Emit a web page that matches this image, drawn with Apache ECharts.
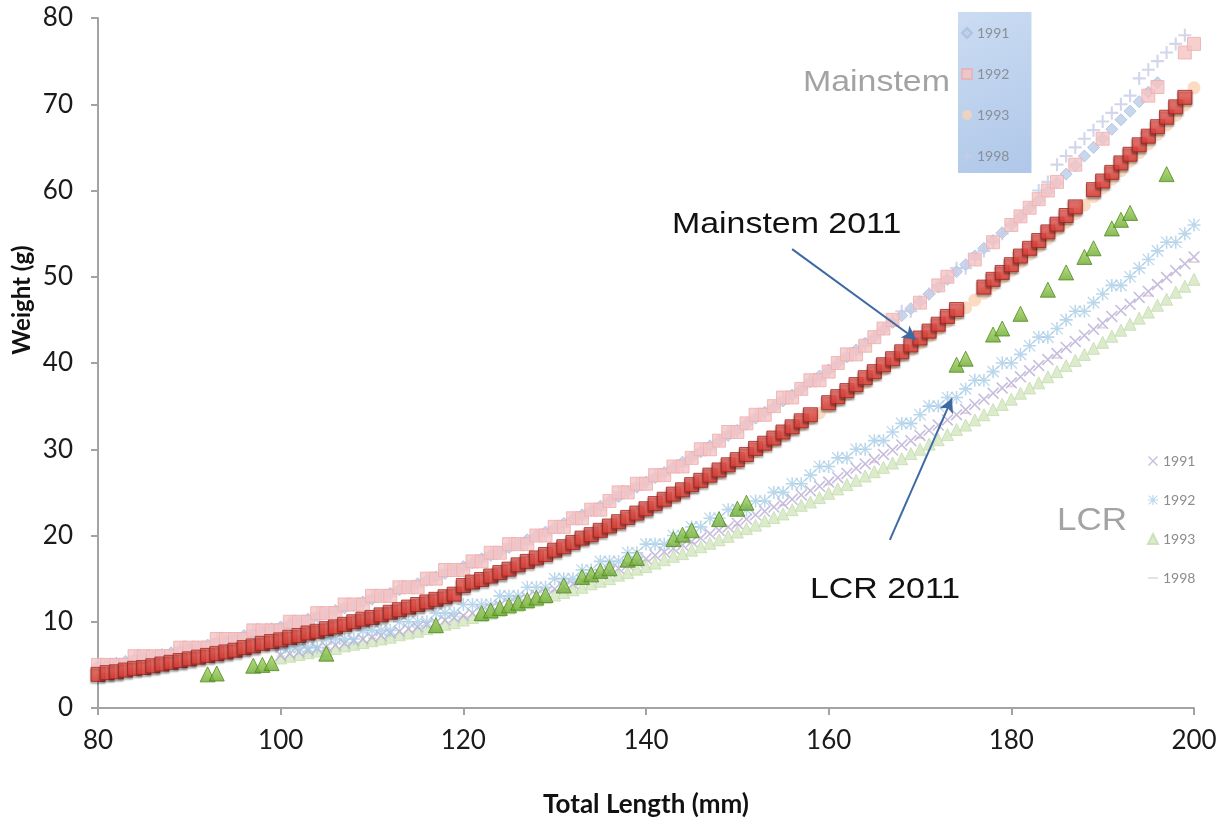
<!DOCTYPE html>
<html>
<head>
<meta charset="utf-8">
<script src="https://cdn.jsdelivr.net/npm/echarts@6/dist/echarts.min.js"></script>
<style>
html,body{margin:0;padding:0;background:#fff;}
#chart{width:1223px;height:823px;}
</style>
</head>
<body>
<div id="chart"></div>
<script>
// ---- data (total length in mm, weight in g) ----
const lengthsMm = [
 80,81,82,83,84,85,86,87,88,89,
 90,91,92,93,94,95,96,97,98,99,
 100,101,102,103,104,105,106,107,108,109,
 110,111,112,113,114,115,116,117,118,119,
 120,121,122,123,124,125,126,127,128,129,
 130,131,132,133,134,135,136,137,138,139,
 140,141,142,143,144,145,146,147,148,149,
 150,151,152,153,154,155,156,157,158,159,
 160,161,162,163,164,165,166,167,168,169,
 170,171,172,173,174,175,176,177,178,179,
 180,181,182,183,184,185,186,187,188,189,
 190,191,192,193,194,195,196,197,198,199,
 200];

// Mainstem 2011 (bold red squares)
const mainstem2011 = [
 3.9,4.1,4.2,4.4,4.6,4.7,4.9,5.1,5.3,5.5,
 5.7,5.9,6.1,6.3,6.5,6.7,7.0,7.2,7.5,7.7,
 7.9,8.2,8.4,8.7,8.9,9.2,9.4,9.7,10.0,10.3,
 10.5,10.8,11.1,11.4,11.7,12.0,12.3,12.6,12.9,13.2,
 14.2,14.6,14.9,15.3,15.7,16.1,16.6,17.0,17.4,17.8,
 18.3,18.7,19.2,19.7,20.1,20.6,21.1,21.6,22.1,22.6,
 23.1,23.7,24.2,24.8,25.3,25.9,26.4,27.0,27.6,28.2,
 28.8,29.4,30.1,30.7,31.3,32.0,32.6,33.3,34.0,null,
 35.4,36.1,36.8,37.5,38.3,39.0,39.8,40.5,41.3,42.1,
 42.9,43.7,44.5,45.4,46.2,null,null,48.8,49.7,50.5,
 51.4,52.4,53.3,54.2,55.2,56.1,57.1,58.1,null,60.1,
 61.1,62.1,63.2,64.2,65.3,66.3,67.4,68.5,69.7,70.8,
 null];

// Mainstem 1991 (light blue diamonds)
const mainstem1991 = [
 4.8,5.0,5.2,5.4,5.6,5.8,6.0,6.2,6.4,6.6,
 6.9,7.1,7.3,7.6,7.8,8.1,8.4,8.6,8.9,9.2,
 9.4,9.7,10.0,10.3,10.6,10.9,11.3,11.6,11.9,12.3,
 12.6,13.0,13.3,13.7,14.0,14.4,14.8,15.2,15.6,16.0,
 16.4,16.8,17.3,17.7,18.1,18.6,19.0,19.5,20.0,20.4,
 20.9,21.4,21.9,22.4,22.9,23.4,24.0,24.5,25.1,25.6,
 26.2,26.7,27.3,27.9,28.5,29.1,29.7,30.4,31.0,31.6,
 32.2,32.9,33.6,34.3,34.9,35.6,36.3,37.0,37.8,38.5,
 39.2,40.0,40.7,41.5,42.3,43.0,43.9,44.7,45.5,46.3,
 47.1,48.0,48.8,49.7,50.6,51.4,52.4,53.3,54.2,55.1,
 56.0,57.0,58.0,58.9,59.9,60.9,61.9,62.9,64.0,65.0,
 66.0,67.1,68.2,69.2,70.3,71.4,72.5,null,null,null,
 null];

// Mainstem 1992 (pink squares)
const mainstem1992 = [
 5,5,5,5,6,6,6,6,6,7,
 7,7,7,8,8,8,8,9,9,9,
 9,10,10,10,11,11,11,12,12,12,
 13,13,13,14,14,14,15,15,16,16,
 16,17,17,18,18,19,19,19,20,20,
 21,21,22,22,23,23,24,25,25,26,
 26,27,27,28,28,29,30,30,31,32,
 32,33,34,34,35,36,36,37,38,38,
 39,40,41,41,42,43,44,45,null,null,
 47,null,49,50,null,null,52,null,54,null,
 56,57,58,59,60,61,null,63,null,null,
 66,null,null,null,null,71,72,null,null,76,
 77];

// Mainstem 1993 (light orange circles)
const mainstem1993 = [
 3.9,4.0,4.2,4.4,4.5,4.7,4.9,5.0,5.2,5.4,
 5.6,5.8,6.0,6.2,6.4,6.6,6.9,7.1,7.4,7.6,
 7.8,8.1,8.3,8.6,8.8,9.1,9.3,9.6,9.9,10.2,
 10.4,10.7,11.0,11.3,11.6,11.9,12.2,12.5,12.8,13.2,
 14.0,14.4,14.7,15.1,15.5,15.9,16.4,16.8,17.2,17.6,
 18.0,18.5,18.9,19.4,19.8,20.3,20.8,21.3,21.8,22.3,
 22.8,23.4,23.9,24.4,25.0,25.5,26.1,26.6,27.2,27.8,
 28.4,29.0,29.7,30.3,30.9,31.5,32.2,32.8,33.5,34.2,
 34.9,35.6,36.3,37.0,37.7,38.5,39.2,40.0,40.8,41.5,
 42.3,43.1,43.9,44.8,45.6,46.4,47.3,48.1,49.0,49.9,
 50.7,51.7,52.6,53.5,54.4,55.4,56.3,57.3,58.3,59.3,
 60.3,61.3,62.3,63.4,64.4,65.4,66.5,67.6,68.7,69.9,
 71.9];

// Mainstem 1998 (light "+" markers)
const mainstem1998 = [
 5,5,5,5,6,6,6,6,6,7,
 7,7,7,8,8,8,8,9,9,9,
 9,10,10,10,11,11,11,12,12,12,
 13,13,13,14,14,14,15,15,16,16,
 16,17,17,18,18,19,19,19,20,20,
 21,21,22,22,23,23,24,25,25,26,
 26,27,27,28,28,29,30,30,31,32,
 32,33,34,34,35,36,36,37,38,38,
 39,40,41,41,42,43,44,45,46,46,
 47,48,49,50,51,51,52,53,54,55,
 56,57,58,60,61,63,64,65,66,67,
 68,69,70,71,73,74,75,76,77,78,
 null];

// LCR 1991 (lavender x)
const lcr1991 = [
 null,null,null,null,null,null,null,null,null,null,
 null,null,null,null,null,null,null,null,null,null,
 6.1,6.3,6.5,6.7,6.9,7.1,7.3,7.5,7.8,8.0,
 8.2,8.4,8.7,8.9,9.2,9.4,9.7,9.9,10.2,10.5,
 10.7,11.0,11.3,11.6,11.9,12.2,12.5,12.8,13.1,13.4,
 13.8,14.1,14.4,14.8,15.1,15.5,15.8,16.2,16.6,16.9,
 17.3,17.7,18.1,18.5,18.9,19.3,19.7,20.2,20.6,21.0,
 21.4,21.9,22.4,22.8,23.3,23.7,24.2,24.7,25.2,25.7,
 26.2,26.7,27.2,27.8,28.3,28.8,29.4,29.9,30.5,31.0,
 31.6,32.2,32.8,33.4,34.0,34.6,35.2,35.8,36.5,37.1,
 37.7,38.4,39.1,39.7,40.4,41.1,41.8,42.5,43.2,43.9,
 44.6,45.4,46.1,46.8,47.6,48.3,49.1,49.9,50.7,51.5,
 52.3];

// LCR 1992 (light blue asterisks)
const lcr1992 = [
 null,null,null,null,null,null,null,null,null,null,
 null,null,null,null,null,null,null,null,null,null,
 7,7,7,7,7,8,8,8,8,9,
 9,9,9,10,10,10,10,11,11,11,
 12,12,12,12,13,13,13,14,14,14,
 15,15,15,16,16,17,17,17,18,18,
 19,19,19,20,20,21,21,22,22,23,
 23,23,24,24,25,25,26,26,27,28,
 28,29,29,30,30,31,31,32,33,33,
 34,35,35,36,36,37,38,38,39,40,
 40,41,42,43,43,44,45,46,46,47,
 48,49,49,50,51,52,53,54,54,55,
 56];

// LCR 1993 (pale green triangles)
const lcr1993 = [
 null,null,null,null,null,null,null,null,null,null,
 null,null,null,null,null,null,null,null,null,null,
 5.8,6.0,6.2,6.4,6.6,6.7,6.9,7.2,7.4,7.6,
 7.8,8.0,8.2,8.5,8.7,8.9,9.2,9.4,9.7,9.9,
 10.2,10.5,10.7,11.0,11.3,11.6,11.9,12.2,12.5,12.8,
 13.1,13.4,13.7,14.0,14.4,14.7,15.0,15.4,15.7,16.1,
 16.4,16.8,17.2,17.6,17.9,18.3,18.7,19.1,19.5,19.9,
 20.4,20.8,21.2,21.7,22.1,22.5,23.0,23.5,23.9,24.4,
 24.9,25.4,25.9,26.4,26.9,27.4,27.9,28.4,28.9,29.5,
 30.0,30.6,31.1,31.7,32.3,32.8,33.4,34.0,34.6,35.2,
 35.8,36.5,37.1,37.7,38.4,39.0,39.7,40.3,41.0,41.7,
 42.4,43.1,43.8,44.5,45.2,45.9,46.7,47.4,48.2,48.9,
 49.7];

// LCR 1998 (faint dashes)
const lcr1998Len = [100,105,110,115,120,125,130,135,140,145,150,155,160,165,170,175,180,185,190,195,200];
const lcr1998W   = [6.0,7.0,8.1,9.3,10.6,12.0,13.6,15.3,17.1,19.1,21.2,23.5,25.9,28.5,31.3,34.2,37.3,40.6,44.1,47.8,51.7];

// LCR 2011 (bold green triangles)
const lcr2011Len = [92,93,97,98,99,105,117,122,123,124,125,126,127,128,129,131,133,134,135,136,138,139,143,144,145,148,150,151,174,175,178,179,181,184,186,188,189,191,192,193,197];
const lcr2011W   = [3.9,4.0,4.9,5.0,5.2,6.3,9.6,11.0,11.3,11.6,11.9,12.2,12.5,12.8,13.1,14.2,15.2,15.5,15.9,16.2,17.2,17.4,19.6,20.1,20.6,21.9,23.1,23.8,39.8,40.5,43.3,44.0,45.7,48.5,50.5,52.3,53.3,55.6,56.6,57.4,61.9];

const xTicks = {min: 80, max: 200, step: 20};
const yTicks = {min: 0, max: 80, step: 10};

// ---- helpers ----
function pairs(vals) {
  const out = [];
  vals.forEach((v, i) => { if (v !== null) out.push([lengthsMm[i], v]); });
  return out;
}
function zipPairs(xs, ys) { return xs.map((x, i) => [x, ys[i]]); }

const PLUS = 'path://M4.2,0H5.8V10H4.2Z M0,4.2H10V5.8H0Z';
const CROSS = 'path://M0.3,1.2L1.2,0.3L9.7,8.8L8.8,9.7Z M8.8,0.3L9.7,1.2L1.2,9.7L0.3,8.8Z';
const STAR = 'path://M4.4,0H5.6V10H4.4Z M0,4.4H10V5.6H0Z M1,0.3L9.7,9L9,9.7L0.3,1Z M9,0.3L9.7,1L1,9.7L0.3,9Z';
const DASH = 'path://M0,4.2H10V5.8H0Z';

const chart = echarts.init(document.getElementById('chart'), null, {renderer: 'canvas'});

const option = {
  animation: false,
  backgroundColor: '#ffffff',
  grid: {left: 98, right: 29, top: 18, bottom: 104, containLabel: false},
  xAxis: {
    type: 'value', min: xTicks.min, max: xTicks.max, interval: xTicks.step,
    name: 'Total Length (mm)', nameLocation: 'middle', nameGap: 84,
    nameTextStyle: {fontFamily: 'Lato', fontWeight: 'bold', fontSize: 26, color: '#111'},
    axisLine: {show: true, onZero: false, lineStyle: {color: '#a3a3a3', width: 2}},
    axisTick: {show: true, inside: false, length: 7, lineStyle: {color: '#a3a3a3', width: 2}},
    axisLabel: {fontFamily: 'Lato', fontSize: 26, color: '#1a1a1a', margin: 20},
    splitLine: {show: false}
  },
  yAxis: {
    type: 'value', min: yTicks.min, max: yTicks.max, interval: yTicks.step,
    axisLine: {show: true, onZero: false, lineStyle: {color: '#a3a3a3', width: 2}},
    axisTick: {show: true, inside: false, length: 7, lineStyle: {color: '#a3a3a3', width: 2}},
    axisLabel: {fontFamily: 'Lato', fontSize: 26, color: '#1a1a1a', margin: 25},
    splitLine: {show: false}
  },
  legend: [
    {
      data: ['Mainstem 1991', 'Mainstem 1992', 'Mainstem 1993', 'Mainstem 1998'],
      orient: 'vertical', left: 958, top: 12, selectedMode: false,
      itemWidth: 10, itemHeight: 10, itemGap: 27,
      padding: [14, 22, 10, 3],
      backgroundColor: {type: 'linear', x: 0, y: 0, x2: 1, y2: 1,
        colorStops: [{offset: 0, color: '#cbdcf2'}, {offset: 1, color: '#afc7e9'}]},
      formatter: n => n.slice(-4),
      textStyle: {fontFamily: 'Lato', fontSize: 14, color: '#8a8f98', lineHeight: 14}
    },
    {
      data: ['LCR 1991', 'LCR 1992', 'LCR 1993', {name: 'LCR 1998', icon: DASH}],
      orient: 'vertical', left: 1147, top: 454, selectedMode: false,
      itemWidth: 10, itemHeight: 10, itemGap: 25,
      padding: 0,
      formatter: n => n.slice(-4),
      textStyle: {fontFamily: 'Lato', fontSize: 14, color: '#8c8c8c', lineHeight: 14}
    }
  ],
  series: [
    {name: 'LCR 1998', type: 'scatter', symbol: 'rect', symbolSize: [8, 2],
     itemStyle: {color: '#e2cbd4'}, data: zipPairs(lcr1998Len, lcr1998W)},
    {name: 'LCR 1993', type: 'scatter', symbol: 'triangle', symbolSize: 12,
     itemStyle: {color: '#d3e6bf', borderColor: '#c4dcae', borderWidth: 1}, data: pairs(lcr1993)},
    {name: 'LCR 1991', type: 'scatter', symbol: CROSS, symbolSize: 12,
     itemStyle: {color: '#b9aed6'}, data: pairs(lcr1991)},
    {name: 'LCR 1992', type: 'scatter', symbol: STAR, symbolSize: 13,
     itemStyle: {color: '#a9cde6'}, data: pairs(lcr1992)},
    {name: 'LCR 2011', type: 'scatter', symbol: 'triangle', symbolSize: 15,
     itemStyle: {color: {type: 'linear', x: 0, y: 0, x2: 0, y2: 1,
       colorStops: [{offset: 0, color: '#a6d562'}, {offset: 1, color: '#6aa82c'}]},
       borderColor: '#4f8a20', borderWidth: 1},
     data: zipPairs(lcr2011Len, lcr2011W)},
    {name: 'Mainstem 1991', type: 'scatter', symbol: 'diamond', symbolSize: 12,
     itemStyle: {color: '#bccde8', borderColor: '#a7bde0', borderWidth: 1}, data: pairs(mainstem1991)},
    {name: 'Mainstem 1998', type: 'scatter', symbol: PLUS, symbolSize: 13,
     itemStyle: {color: '#c5cce6'}, data: pairs(mainstem1998)},
    {name: 'Mainstem 1992', type: 'scatter', symbol: 'rect', symbolSize: 13,
     itemStyle: {color: '#f5c3c3', borderColor: '#eeaeae', borderWidth: 1}, data: pairs(mainstem1992)},
    {name: 'Mainstem 1993', type: 'scatter', symbol: 'circle', symbolSize: 13,
     itemStyle: {color: '#fad3b4'}, data: pairs(mainstem1993)},
    {name: 'Mainstem 2011', type: 'scatter', symbol: 'rect', symbolSize: 14,
     itemStyle: {color: {type: 'linear', x: 0, y: 0, x2: 0, y2: 1,
       colorStops: [{offset: 0, color: '#f56b64'}, {offset: 1, color: '#e23c36'}]},
       borderColor: '#a3241f', borderWidth: 1,
       shadowBlur: 2, shadowColor: 'rgba(0,0,0,0.4)', shadowOffsetY: 2},
     data: pairs(mainstem2011),
     markLine: {
       silent: true, animation: false,
       symbol: ['none', 'arrow'], symbolSize: [11, 14],
       label: {show: false},
       lineStyle: {color: '#3e6aa3', width: 2, type: 'solid'},
       data: [
         [{coord: [156.0, 53.2]}, {coord: [169.6, 42.7]}],
         [{coord: [166.7, 19.5]}, {coord: [173.5, 35.9]}]
       ]
     }}
  ],
  graphic: [
    {type: 'text', x: 22, y: 300, rotation: Math.PI / 2,
     style: {text: 'Weight (g)', fontFamily: 'Lato', fontWeight: 'bold', fontSize: 24, fill: '#111',
       align: 'center', verticalAlign: 'middle', textAlign: 'center', textVerticalAlign: 'middle'}},
    {type: 'text', x: 672, y: 225, scaleX: 1.13, z: 100,
     style: {text: 'Mainstem 2011', fontFamily: 'Liberation Sans', fontSize: 30, fill: '#111',
       align: 'left', verticalAlign: 'middle', textAlign: 'left', textVerticalAlign: 'middle'}},
    {type: 'text', x: 810, y: 590, scaleX: 1.13, z: 100,
     style: {text: 'LCR 2011', fontFamily: 'Liberation Sans', fontSize: 30, fill: '#111',
       align: 'left', verticalAlign: 'middle', textAlign: 'left', textVerticalAlign: 'middle'}},
    {type: 'text', x: 803, y: 83, scaleX: 1.13, z: 100,
     style: {text: 'Mainstem', fontFamily: 'Liberation Sans', fontSize: 30, fill: '#a3a3a3',
       align: 'left', verticalAlign: 'middle', textAlign: 'left', textVerticalAlign: 'middle'}},
    {type: 'text', x: 1057, y: 521, scaleX: 1.13, z: 100,
     style: {text: 'LCR', fontFamily: 'Liberation Sans', fontSize: 31, fill: '#a3a3a3',
       align: 'left', verticalAlign: 'middle', textAlign: 'left', textVerticalAlign: 'middle'}}
  ]
};
chart.setOption(option);
</script>
</body>
</html>
